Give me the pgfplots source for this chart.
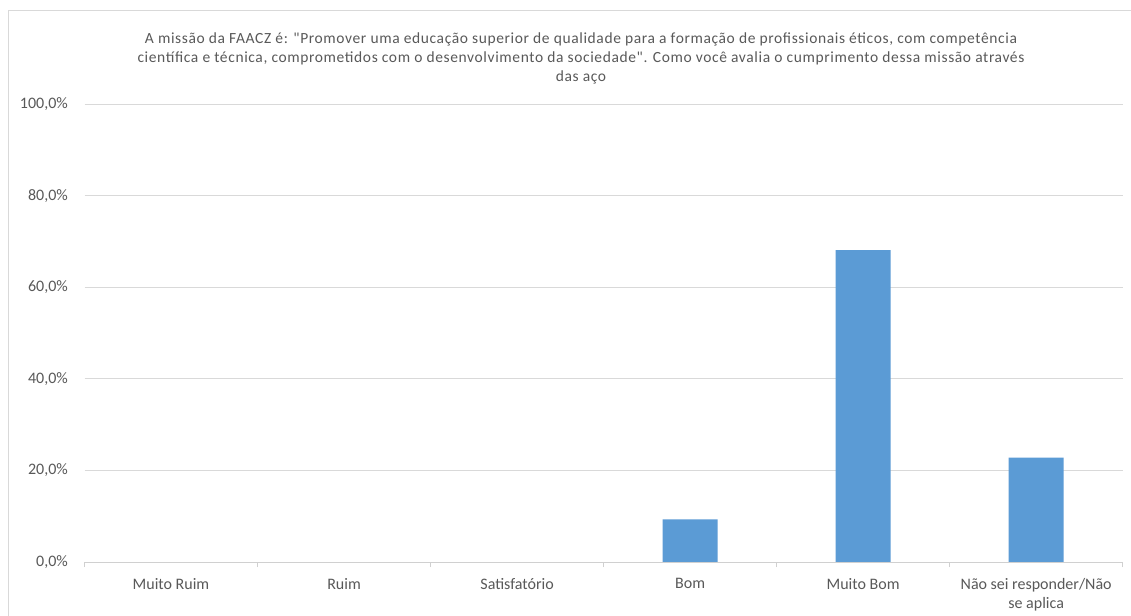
\documentclass[border=0pt]{standalone}
\usepackage{pgfplots}
\pgfplotsset{compat=1.18}
\usepackage{fontspec}
\setmainfont{Carlito}
\newfontfamily\titlefont[LetterSpace=4]{Carlito}
\definecolor{barblue}{HTML}{5B9BD5}
\definecolor{txt}{HTML}{595959}
\definecolor{gridc}{HTML}{D9D9D9}
\definecolor{axisc}{HTML}{D0D0D0}
\begin{document}
\begin{tikzpicture}
\path[use as bounding box] (0,0) rectangle (1131bp,616bp);
\fill[white] (0,0) rectangle (1131bp,616bp);
\draw[gridc, line width=1bp] (8bp,-2bp) -- (8bp,605bp) -- (1133bp,605bp);
\node[text=txt, align=center, font=\titlefont\fontsize{15.5bp}{19bp}\selectfont, inner sep=0pt] at (581bp,558bp)
{A missão da FAACZ é: "Promover uma educação superior de qualidade para a formação de profissionais éticos, com competência\\
científica e técnica, comprometidos com o desenvolvimento da sociedade". Como você avalia o cumprimento dessa missão através\\
das aço};
\begin{axis}[
  at={(84.5bp,54bp)}, anchor=south west,
  scale only axis, width=1038.2bp, height=458bp,
  xmin=-0.5, xmax=5.5, ymin=0, ymax=100,
  ytick={0,20,40,60,80,100},
  yticklabels={{0,0\%},{20,0\%},{40,0\%},{60,0\%},{80,0\%},{100,0\%}},
  xtick=data,
  xticklabels={Muito Ruim,Ruim,Satisfatório,Bom,Muito Bom,{Não sei responder/Não\\se aplica}},
  extra x ticks={-0.5,0.5,1.5,2.5,3.5,4.5,5.5},
  extra x tick labels={},
  extra x tick style={major tick length=5bp, tick style={axisc, line width=0.8bp}, tick align=outside},
  major tick length=0pt,
  xmajorgrids=false,
  axis x line*=bottom,
  axis y line*=left,
  y axis line style={draw=none},
  x axis line style={axisc, line width=0.8bp, -},
  ymajorgrids, major grid style={gridc, line width=0.8bp},
  ytick style={draw=none},
  ticklabel style={text=txt, font=\fontsize{16bp}{19bp}\selectfont, inner sep=0pt},
  yticklabel style={xshift=-16.5bp},
  xticklabel style={align=center, yshift=-16bp},
  ybar, bar width=55bp,
]
\addplot[fill=barblue, draw=none] coordinates {(0,0) (1,0) (2,0) (3,9.3) (4,68.1) (5,22.8)};
\end{axis}
\end{tikzpicture}
\end{document}
